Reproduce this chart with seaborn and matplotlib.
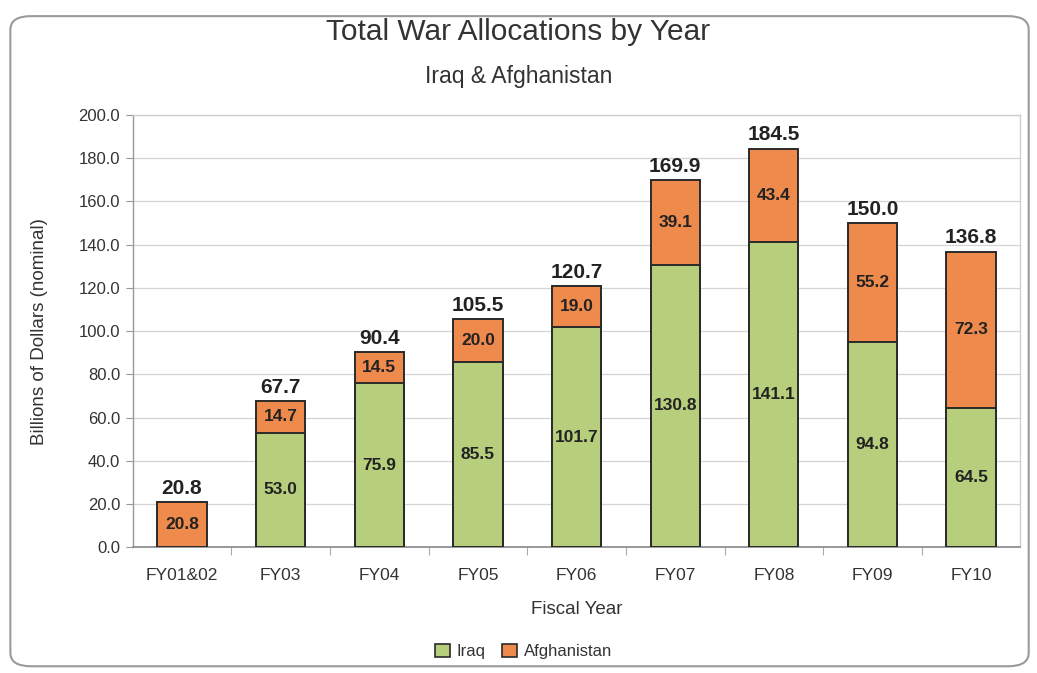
import matplotlib
matplotlib.use("Agg")
import matplotlib.pyplot as plt
from matplotlib.patches import FancyBboxPatch, Patch
import seaborn as sns
import pandas as pd

years = ["FY01&02", "FY03", "FY04", "FY05", "FY06", "FY07", "FY08", "FY09", "FY10"]
iraq = [0.0, 53.0, 75.9, 85.5, 101.7, 130.8, 141.1, 94.8, 64.5]
afghanistan = [20.8, 14.7, 14.5, 20.0, 19.0, 39.1, 43.4, 55.2, 72.3]
totals = [20.8, 67.7, 90.4, 105.5, 120.7, 169.9, 184.5, 150.0, 136.8]
yticks = [0, 20, 40, 60, 80, 100, 120, 140, 160, 180, 200]

sns.set_theme(style="white")
plt.rcParams["font.family"] = ["Liberation Sans", "DejaVu Sans"]

GREEN = "#b7cf7d"
ORANGE = "#ee8a4c"
EDGE = "#2a2a2a"
TXT = "#333333"

df = pd.DataFrame({"year": years, "iraq": iraq, "afghanistan": afghanistan,
                   "stack": [i + a for i, a in zip(iraq, afghanistan)]})

fig = plt.figure(figsize=(10.37, 6.73), dpi=100)
fig.patch.set_facecolor("white")
border = FancyBboxPatch((0.01, 0.01), 0.982, 0.966, boxstyle="round,pad=0,rounding_size=0.02",
                        transform=fig.transFigure, facecolor="white", edgecolor="#9a9a9a",
                        linewidth=1.5, zorder=-10)
fig.patches.append(border)

ax = fig.add_axes([0.128, 0.187, 0.856, 0.642])
ax.set_facecolor("none")

sns.barplot(data=df, x="year", y="stack", color=ORANGE, width=0.5, edgecolor=EDGE,
            linewidth=1.4, saturation=1, ax=ax, zorder=3)
sns.barplot(data=df, x="year", y="iraq", color=GREEN, width=0.5, edgecolor=EDGE,
            linewidth=1.4, saturation=1, ax=ax, zorder=4)
for p in ax.patches:
    if p.get_height() == 0:
        p.set_linewidth(0)

for i, (ir, af, tot) in enumerate(zip(iraq, afghanistan, totals)):
    if ir > 0:
        ax.text(i, ir / 2, f"{ir:.1f}", ha="center", va="center", fontsize=12.5,
                fontweight="bold", color="#222222", zorder=6)
    ax.text(i, ir + af / 2, f"{af:.1f}", ha="center", va="center", fontsize=12.5,
            fontweight="bold", color="#222222", zorder=6)
    ax.text(i, ir + af + 2.0, f"{tot:.1f}", ha="center", va="bottom", fontsize=15,
            fontweight="bold", color="#222222", zorder=6)

ax.set_ylim(0, 200)
ax.set_xlim(-0.5, len(years) - 0.5)
ax.set_yticks(yticks)
ax.set_yticklabels([f"{v:.1f}" for v in yticks], fontsize=12, color=TXT)
ax.set_xticks(range(len(years)))
ax.set_xticklabels(years, fontsize=12.5, color=TXT)
ax.tick_params(axis="x", length=0, pad=15)
ax.tick_params(axis="y", length=5, width=0.8, color="#999999", pad=4, left=True)
ax.set_xticks([i + 0.5 for i in range(len(years) - 1)], minor=True)
ax.tick_params(axis="x", which="minor", length=6, width=0.8, color="#aaaaaa", bottom=True)

ax.yaxis.grid(True, color="#d4d4d4", linewidth=0.9, zorder=0)
ax.set_axisbelow(True)
for s in ["top", "right"]:
    ax.spines[s].set_color("#cfcfcf")
    ax.spines[s].set_linewidth(1.0)
ax.spines["left"].set_color("#999999")
ax.spines["left"].set_linewidth(1.0)
ax.spines["bottom"].set_color("#888888")
ax.spines["bottom"].set_linewidth(1.2)

ax.set_xlabel("Fiscal Year", fontsize=13.5, color=TXT, labelpad=13)
ax.set_ylabel("Billions of Dollars (nominal)", fontsize=13.5, color=TXT, labelpad=22)

fig.text(0.5, 0.952, "Total War Allocations by Year", ha="center", va="center",
         fontsize=21.5, color=TXT)
fig.text(0.5, 0.887, "Iraq & Afghanistan", ha="center", va="center",
         fontsize=16.5, color=TXT)

handles = [Patch(facecolor=GREEN, edgecolor=EDGE, linewidth=1.2, label="Iraq"),
           Patch(facecolor=ORANGE, edgecolor=EDGE, linewidth=1.2, label="Afghanistan")]
fig.legend(handles=handles, loc="center", bbox_to_anchor=(0.505, 0.032), ncol=2, frameon=False,
           fontsize=12, handlelength=0.9, handleheight=0.9, handletextpad=0.4,
           columnspacing=1.0, labelcolor=TXT)

fig.savefig("out.png", dpi=100, facecolor="white")
